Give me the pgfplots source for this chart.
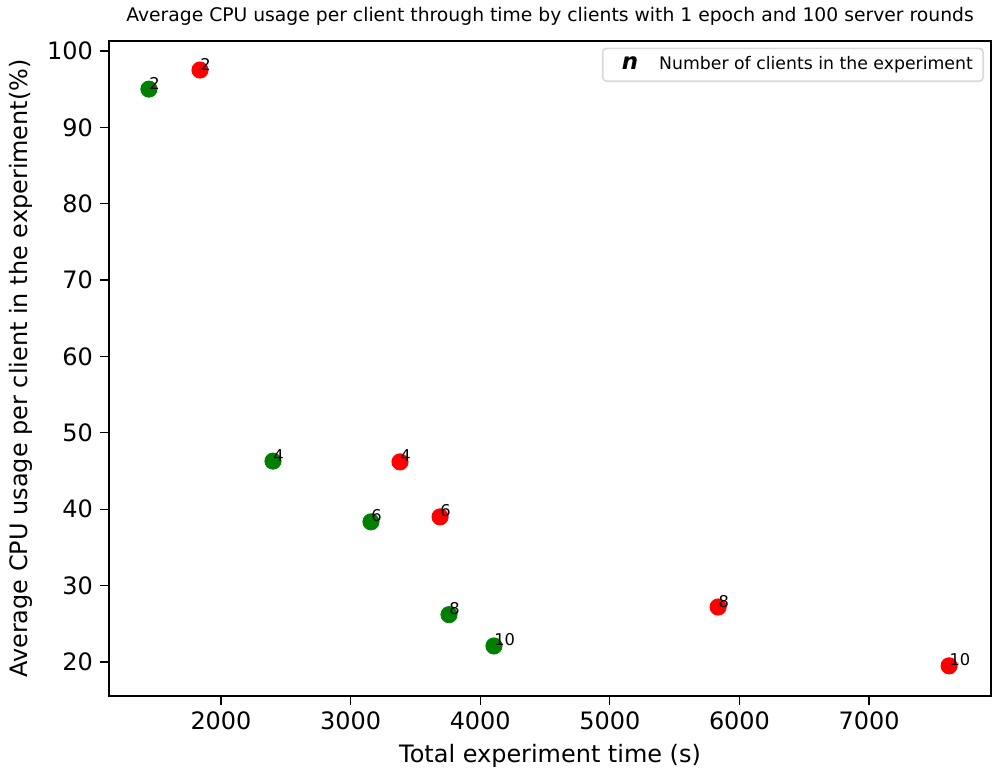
\documentclass[border=0pt]{standalone}
\usepackage{fontspec}
\setmainfont{DejaVu Sans}
\usepackage{pgfplots}
\pgfplotsset{compat=1.18}
\definecolor{mplred}{RGB}{255,0,0}
\definecolor{mplgreen}{RGB}{0,128,0}

% time (s), CPU usage (%), number of clients
\pgfplotstableread{
x y n
1444 95.0 2
2401 46.3 4
3157 38.35 6
3759 26.2 8
4106 22.1 10
}\greenruns
\pgfplotstableread{
x y n
1838 97.5 2
3381 46.2 4
3690 39.0 6
5835 27.2 8
7617 19.5 10
}\redruns

\begin{document}
\begin{tikzpicture}
\begin{axis}[
  at={(0,0)}, anchor=south west,
  scale only axis, width=423.4pt, height=314.4pt,
  xmin=1136, xmax=7941, ymin=15.55, ymax=101.3,
  xtick={2000,3000,...,7000}, ytick={20,30,...,100},
  axis line style={line width=0.6pt},
  tick style={black, line width=0.6pt},
  tick align=outside, major tick length=4.2pt,
  xtick pos=bottom, ytick pos=left,
  /pgf/number format/assume math mode=true,
  /pgf/number format/1000 sep={},
  tick label style={font=\fontsize{11.5}{13}\selectfont},
  label style={font=\fontsize{11.5}{13}\selectfont},
  xlabel={Total experiment time (s)},
  ylabel={Average CPU usage per client in the experiment(\%)},
  title={Average CPU usage per client through time by clients with 1 epoch and 100 server rounds},
  title style={font=\fontsize{9}{11}\selectfont, yshift=-2pt},
  legend style={at={(0.992,0.99)}, anchor=north east,
    draw=black!15, rounded corners=2pt, line width=0.8pt,
    font=\fontsize{8.3}{10}\selectfont, inner xsep=3pt, inner ysep=2pt},
  legend cell align=left,
  nodes near coords, point meta=explicit symbolic,
  every node near coord/.style={anchor=base west, inner sep=0pt,
    font=\fontsize{7.8}{9}\selectfont, black},
]
\addlegendimage{legend image code/.code={
  \path (0,0) (0.75cm,0);
  \node[font=\fontsize{11}{12}\selectfont\bfseries\itshape] at (0.12cm,0) {n};}}
\addlegendentry{Number of clients in the experiment}
\addplot[only marks, mark=*, mark size=3.9pt, color=mplgreen, forget plot]
  table[x=x, y=y, meta=n] {\greenruns};
\addplot[only marks, mark=*, mark size=3.9pt, color=mplred, forget plot]
  table[x=x, y=y, meta=n] {\redruns};
\end{axis}
\pgfresetboundingbox
\useasboundingbox (-52.32pt,-36.48pt) rectangle (426.24pt,334.08pt);
\end{tikzpicture}
\end{document}
